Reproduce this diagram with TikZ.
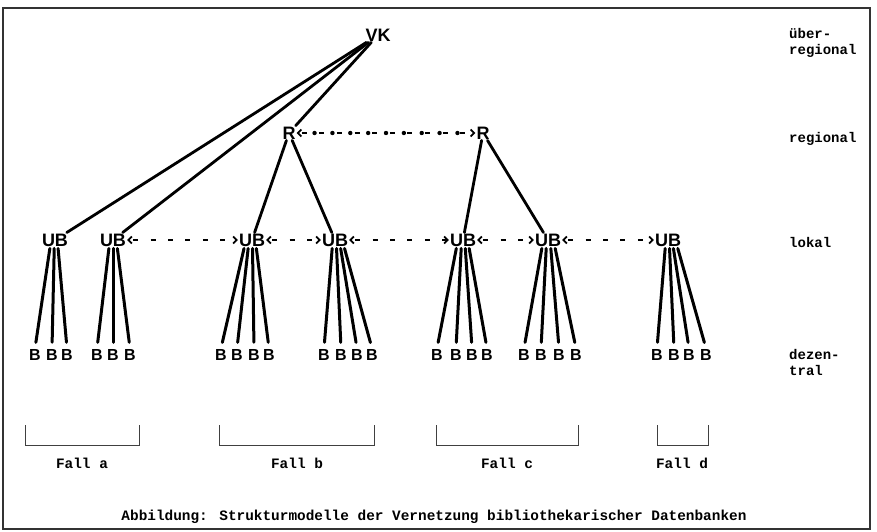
\documentclass[tikz,border=0pt]{standalone}
\usepackage{fontspec}
\setmainfont{Liberation Sans}
\newfontfamily\monof{Liberation Mono}
\usetikzlibrary{arrows.meta,decorations.markings,calc}
\begin{document}
\begin{tikzpicture}[x=1pt,y=-1pt,
  lvl/.style={font=\monof\bfseries\fontsize{14}{16}\selectfont, anchor=west, align=left, inner sep=0pt},
  mtxt/.style={font=\monof\bfseries\fontsize{14.4}{16}\selectfont, inner sep=0pt},
  nd/.style={font=\bfseries\fontsize{18}{18}\selectfont, inner sep=1pt},
  bn/.style={font=\bfseries\fontsize{16}{16}\selectfont, inner sep=1pt},
  tie/.style={line width=2.8pt, line cap=round},
  fan/.style={line width=3pt, line cap=round, shorten <=1pt, shorten >=6pt},
  ublink/.style={line width=1.7pt, dash pattern=on 5pt off 12.4pt, dash phase=-4pt, {Straight Barb[length=3.5pt,width=7pt]}-{Straight Barb[length=3.5pt,width=7pt]}},
  rlink/.style={line width=1.7pt, dash pattern=on 5pt off 12.6pt, dash phase=-3pt, {Straight Barb[length=3.5pt,width=7pt]}-{Straight Barb[length=3.5pt,width=7pt]},
    postaction={decorate, decoration={markings,
      mark=between positions 0.1 and 0.92 step 0.1 with {\fill (0,0) circle (2.2pt);}}}},
  brk/.style={line width=0.9pt, draw=black!75},
]
\useasboundingbox (0,0) rectangle (877,532);
\draw[line width=1.8pt, draw=black!80] (3,8) rectangle (870,529);

% top levels
\node[nd] (vk) at (378,35) {VK};
\node[nd] (r1) at (289,133) {R};
\node[nd] (r2) at (483,133) {R};

% UB level
\node[nd] (u1) at (55,240) {UB};
\node[nd] (u2) at (113,240) {UB};
\node[nd] (u3) at (252,240) {UB};
\node[nd] (u4) at (335,240) {UB};
\node[nd] (u5) at (463,240) {UB};
\node[nd] (u6) at (548,240) {UB};
\node[nd] (u7) at (668,240) {UB};

% connections from VK
\draw[tie] (vk) -- (u1);
\draw[tie] (vk) -- (u2);
\draw[tie] (vk) -- (r1);
% R to UB
\draw[tie] (r1) -- (u3);
\draw[tie] (r1) -- (u4);
\draw[tie] (r2) -- (u5);
\draw[tie] (r2) -- (u6);

% horizontal links
\draw[rlink] (r1) -- (r2);
\draw[ublink] (u2) -- (u3);
\draw[ublink] (u3) -- (u4);
\draw[ublink] (u4) -- (u5);
\draw[ublink] (u5) -- (u6);
\draw[ublink] (u6) -- (u7);

% B level
\foreach \u/\g/\xs in {u1/ba/{35,52,67}, u2/bb/{97,113,130}, u3/bc/{221,237,254,269},
    u4/bd/{324,341,357,372}, u5/be/{437,456,472,487}, u6/bf/{524,541,559,576},
    u7/bg/{657,674,689,706}} {
  \foreach \bx [count=\i] in \xs {
    \node[bn] (\g\i) at (\bx,355) {B};
    \draw[fan] let \p1=(\u.south), \p2=(\g\i.north) in
      ({\x1+0.25*(\x2-\x1)},\y1) -- (\x2,\y2);
  }
}

% level labels
\node[lvl] (l1) at (789,43) {über-\\regional};
\node[lvl] (l2) at (789,139) {regional};
\node[lvl] (l3) at (789,242) {lokal};
\node[lvl] (l4) at (789,362) {dezen-\\tral};

% brackets
\draw[brk] (25,425) -- (25,445) -- (139,445) -- (139,425);
\draw[brk] (219,425) -- (219,445) -- (374,445) -- (374,425);
\draw[brk] (436,425) -- (436,445) -- (578,445) -- (578,425);
\draw[brk] (657,425) -- (657,445) -- (708,445) -- (708,425);
\node[mtxt] (fa) at (82,463) {Fall a};
\node[mtxt] (fb) at (297,463) {Fall b};
\node[mtxt] (fc) at (507,463) {Fall c};
\node[mtxt] (fd) at (682,463) {Fall d};

\node[mtxt] (caption) at (434,517) {Abbildung: Strukturmodelle der Vernetzung bibliothekarischer Datenbanken};
\end{tikzpicture}
\end{document}
